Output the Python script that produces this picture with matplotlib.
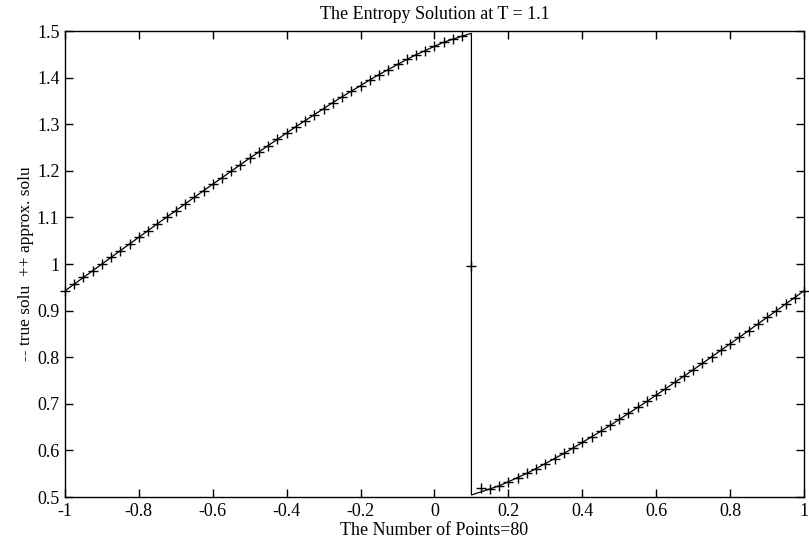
import matplotlib.pyplot as plt
import numpy as np

# grid of the scheme: 80 cells on [-1, 1]
x = np.linspace(-1, 1, 81)

# exact entropy solution at the grid nodes, left of the shock (x = -1 ... 0.1)
u_left = [0.9424, 0.9568, 0.9712, 0.9856, 1.0000, 1.0144, 1.0288, 1.0431,
          1.0575, 1.0719, 1.0862, 1.1004, 1.1147, 1.1289, 1.1432, 1.1573,
          1.1713, 1.1852, 1.1992, 1.2132, 1.2272, 1.2407, 1.2542, 1.2677,
          1.2812, 1.2948, 1.3077, 1.3206, 1.3335, 1.3464, 1.3589, 1.3709,
          1.3829, 1.3950, 1.4066, 1.4174, 1.4282, 1.4389, 1.4491, 1.4581,
          1.4672, 1.4760, 1.4825, 1.4890, 1.4950]
# right of the shock (x = 0.1 ... 1)
u_right = [0.5044, 0.5109, 0.5174, 0.5240, 0.5328, 0.5418, 0.5509, 0.5610,
           0.5718, 0.5826, 0.5934, 0.6051, 0.6171, 0.6291, 0.6411, 0.6536,
           0.6665, 0.6794, 0.6923, 0.7052, 0.7187, 0.7322, 0.7458, 0.7593,
           0.7728, 0.7868, 0.8008, 0.8147, 0.8287, 0.8427, 0.8569, 0.8711,
           0.8854, 0.8996, 0.9139, 0.9281, 0.9425]

# numerical solution (one value per node)
u_num = u_left[:44] + [0.9950, 0.5190] + u_right[2:]

x_true = np.concatenate([x[:45], x[44:]])
u_true = np.array(u_left + u_right)

plt.rcParams['font.family'] = ['Liberation Serif', 'DejaVu Serif']
plt.rcParams['font.size'] = 13

fig = plt.figure(figsize=(8.09, 5.46), dpi=100)
ax = fig.add_axes([0.0803, 0.0897, 0.9135, 0.8535])

ax.plot(x_true, u_true, color='black', lw=0.9)
ax.plot(x, u_num, ls='none', marker='+', ms=7.5, mew=1.0, color='black', clip_on=False)

ax.set_xlim(-1, 1)
ax.set_ylim(0.5, 1.5)
ax.set_xticks(np.arange(-1, 1.01, 0.2))
ax.set_xticklabels(['-1', '-0.8', '-0.6', '-0.4', '-0.2', '0', '0.2', '0.4', '0.6', '0.8', '1'])
ax.set_yticks(np.arange(0.5, 1.51, 0.1))
ax.set_yticklabels(['0.5', '0.6', '0.7', '0.8', '0.9', '1', '1.1', '1.2', '1.3', '1.4', '1.5'])
ax.tick_params(direction='in', top=True, right=True, length=6, width=1, pad=4)
ax.tick_params(axis='x', pad=4)
for s in ax.spines.values():
    s.set_linewidth(1)

ax.set_title('The Entropy Solution at T = 1.1', fontsize=13, pad=9)
ax.set_xlabel('The Number of Points=80', labelpad=2)
ax.set_ylabel('-- true solu  ++ approx. solu', fontsize=12.5, labelpad=2)

fig.savefig('out.png', dpi=100)
